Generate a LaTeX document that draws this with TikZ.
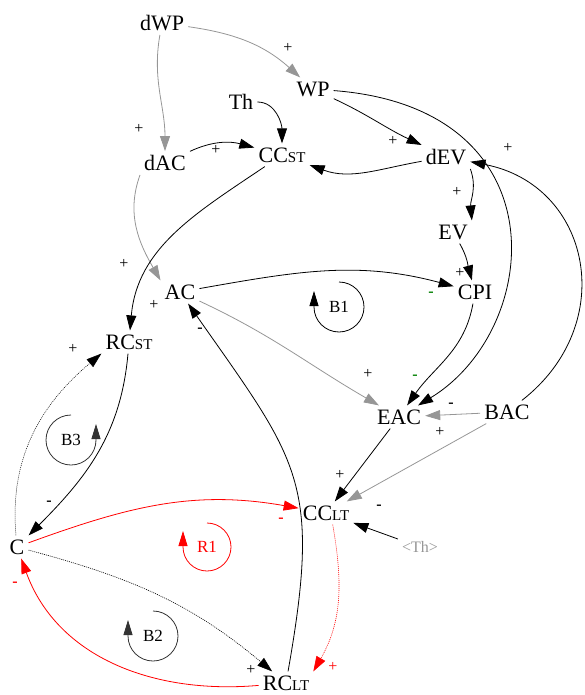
\documentclass[tikz,border=0pt]{standalone}
\usepackage{fontspec}
\setmainfont{Liberation Serif}
\usetikzlibrary{arrows.meta}
\newcommand\lowtag[1]{{\fontsize{15}{15}\selectfont #1}}
\definecolor{linkgray}{RGB}{150,150,150}
\definecolor{polgreen}{RGB}{0,128,0}
\begin{document}
\begin{tikzpicture}[x=1pt,y=1pt,
  var/.style={inner sep=4pt,font=\fontsize{22}{24}\selectfont},
  link/.style={-{Triangle[length=15pt,width=10pt]},line width=0.8pt},
  graylink/.style={link,draw=linkgray},
  redlink/.style={link,draw=red},
  dotlink/.style={link,dash pattern=on 1pt off 1pt,line width=0.6pt},
  pol/.style={inner sep=0pt,font=\fontsize{16}{16}\selectfont},
  looplbl/.style={inner sep=0pt,font=\fontsize{17}{17}\selectfont},
  looparc/.style={-{Triangle[length=15pt,width=9pt]},line width=0.8pt}]

\useasboundingbox (0,0) rectangle (584,-695);

% Variables
\node[var] (dWP) at (162,-23) {dWP};
\node[var] (WP) at (313,-89) {WP};
\node[var] (Th) at (241,-102) {Th};
\node[var] (dAC) at (165,-163) {dAC};
\node[var] (CCst) at (282,-155) {CC\lowtag{ST}};
\node[var] (dEV) at (446,-157) {dEV};
\node[var] (EV) at (453,-232) {EV};
\node[var] (CPI) at (475,-292) {CPI};
\node[var] (AC) at (180,-292) {AC};
\node[var] (RCst) at (129,-342) {RC\lowtag{ST}};
\node[var] (EAC) at (399,-417) {EAC};
\node[var] (BAC) at (507,-412) {BAC};
\node[var] (CClt) at (326,-513) {CC\lowtag{LT}};
\node[var,text=linkgray,font=\fontsize{16}{16}\selectfont] (ThD) at (420,-547) {<Th>};
\node[var] (C) at (17,-547) {C};
\node[var] (RClt) at (286,-683) {RC\lowtag{LT}};

% Upper links
\draw[graylink] (dWP) to[out=-8,in=138] (WP);
\draw[graylink] (dWP) to[out=-100,in=90] (dAC);
\draw[link] (Th) to[out=0,in=90] (CCst);
\draw[link] (dAC) to[out=25,in=165] (CCst);
\draw[link] (dEV) to[out=190,in=-20] (CCst);
\draw[link] (WP) to[out=-25,in=155] (dEV.north west);
\draw[link] (WP) .. controls +(250,-19) and +(143,87) .. (EAC);
\draw[link] (dEV.south east) to[out=-70,in=95] (EV.north east);
\draw[link] (EV) to[out=-60,in=105] (CPI);
\draw[link] (BAC) .. controls +(113,88) and +(145,-28) .. (dEV);

% Middle links
\draw[link] (AC) to[out=10,in=165] (CPI);
\draw[graylink] (AC) to[out=-25,in=150] (EAC);
\draw[link] (CPI) to[out=-100,in=55] (EAC);
\draw[graylink] (BAC) -- (EAC);
\draw[link] (EAC) -- (CClt);
\draw[graylink] (BAC) -- (CClt);
\draw[link] (ThD) -- (CClt);
\draw[graylink] (dAC.south west) to[out=-110,in=120] (AC.north west);
\draw[link] (CCst) to[out=-146,in=85] (RCst);

% Lower links
\draw[link] (RCst) to[out=-95,in=45] (C);
\draw[dotlink,line width=0.5pt] (C) to[out=95,in=-140] (RCst.south west);
\draw[redlink] (C) to[out=20,in=170] (CClt);
\draw[dotlink] (C) to[out=-15,in=140] (RClt);
\draw[redlink,dash pattern=on 1pt off 1pt,line width=0.6pt] (CClt.-60) to[out=-80,in=60] (RClt.north east);
\draw[redlink] (RClt) to[out=185,in=-70] (C);
\draw[link] (RClt) to[out=80,in=-55,looseness=1.3] (AC);

% Polarities
\foreach \px/\py/\s/\c [count=\i] in {288/48/+/black, 139/129/+/black,
    216/150/+/black, 393/141/+/black, 508/148/+/black, 457/192/+/black,
    460/273/+/black, 431/294/\textbf{-}/polgreen, 124/264/+/black,
    154/305/+/black, 200/330/\textbf{-}/black, 73/349/+/black,
    368/374/+/black, 415/377/\textbf{-}/polgreen, 451/405/\textbf{-}/black,
    440/432/+/black, 340/475/+/black, 379/507/\textbf{-}/black,
    49/503/\textbf{-}/black, 281/520/\textbf{-}/red, 15/584/\textbf{-}/red,
    251/670/+/black, 333/667/+/red}
  \node[pol,text=\c] (p\i) at (\px,-\py) {\s};

% Loops
\node[looplbl] (B1) at (339,-307) {B1};
\draw[looparc] (B1) ++(90:25) arc[start angle=90,end angle=-180,radius=25] -- ++(0,16);

\node[looplbl] (B3) at (71,-440) {B3};
\draw[looparc,draw=black!80] (B3) ++(90:25) arc[start angle=90,end angle=360,radius=25] -- ++(0,16);

\node[looplbl,text=red] (R1) at (207,-547) {R1};
\draw[looparc,draw=red] (R1) ++(90:24) arc[start angle=90,end angle=-180,radius=24] -- ++(0,16);

\node[looplbl] (B2) at (153,-636) {B2};
\draw[looparc,draw=black!80] (B2) ++(90:25) arc[start angle=90,end angle=-180,radius=25] -- ++(0,16);

\end{tikzpicture}
\end{document}
